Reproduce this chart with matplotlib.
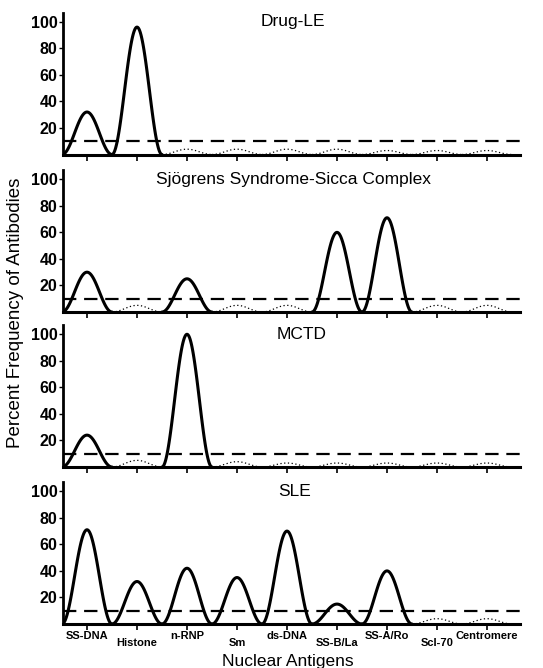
import numpy as np
import matplotlib.pyplot as plt

plt.rcParams['font.family'] = ['Liberation Sans', 'DejaVu Sans']

# antigens along the x axis
antigens = ["SS-DNA", "Histone", "n-RNP", "Sm", "ds-DNA",
            "SS-B/La", "SS-A/Ro", "Scl-70", "Centromere"]

# percent frequency of antibodies per disease
drug_le = [32, 96, 4, 4, 4, 4, 3, 3, 3]
sjogren = [30, 5, 25, 5, 5, 60, 71, 5, 5]
mctd = [24, 5, 100, 4, 3, 3, 3, 3, 3]
sle = [71, 32, 42, 35, 70, 15, 40, 4, 4]

titles = ["Drug-LE", "Sjögrens Syndrome-Sicca Complex", "MCTD", "SLE"]
panels = [drug_le, sjogren, mctd, sle]
title_x = [4.12, 4.12, 4.3, 4.15]

# significance threshold (dashed line)
threshold = 10

fig = plt.figure(figsize=(5.43, 6.68), dpi=100)

left = 63 / 543
width = 457 / 543
height = 142 / 668
baselines = [154.5, 312, 467, 624]

for k in range(4):
    bottom = (668 - baselines[k]) / 668
    ax = fig.add_axes([left, bottom, width, height])
    values = panels[k]

    # each antigen drawn as a smooth bump centred on its position
    for i, v in enumerate(values):
        t = np.linspace(-0.5, 0.5, 101)
        y = v * 0.5 * (1 + np.cos(2 * np.pi * t))
        if v > threshold:
            ax.plot(i + t, y, color='black', lw=2.2, solid_capstyle='round')
        else:
            ax.plot(i + t, y, color='black', lw=0.9, ls=(0, (1, 2)))

    ax.axhline(threshold, color='black', lw=1.6, ls=(0, (6, 3.5)))

    ax.set_xlim(-0.48, 8.66)
    ax.set_ylim(0, 107)
    ax.set_yticks([20, 40, 60, 80, 100])
    ax.set_xticks(range(len(antigens)))
    ax.tick_params(axis='y', direction='out', length=3, width=1,
                   labelsize=11.5, pad=1)
    ax.tick_params(axis='x', direction='out', length=4, width=1.2)
    for lab in ax.get_yticklabels():
        lab.set_fontweight('bold')
    ax.spines['top'].set_visible(False)
    ax.spines['right'].set_visible(False)
    ax.spines['left'].set_linewidth(2)
    ax.spines['bottom'].set_linewidth(2.2)
    ax.set_xticklabels([])
    ax.text(title_x[k], 100, titles[k], ha='center', va='center', fontsize=12.5)

    if k == 3:
        # staggered antigen names under the last panel
        for i, name in enumerate(antigens):
            off = -5 if i % 2 == 0 else -10
            ax.annotate(name, xy=(i, 0), xycoords='data',
                        xytext=(0, off), textcoords='offset points',
                        ha='center', va='top', fontsize=8, fontweight='bold',
                        annotation_clip=False)

fig.text(0.028, 0.532, "Percent Frequency of Antibodies", rotation=90,
         ha='center', va='center', fontsize=13.5)
fig.text(0.53, 0.009, "Nuclear Antigens", ha='center', va='center',
         fontsize=12.5)

plt.savefig("out.png", dpi=100)
